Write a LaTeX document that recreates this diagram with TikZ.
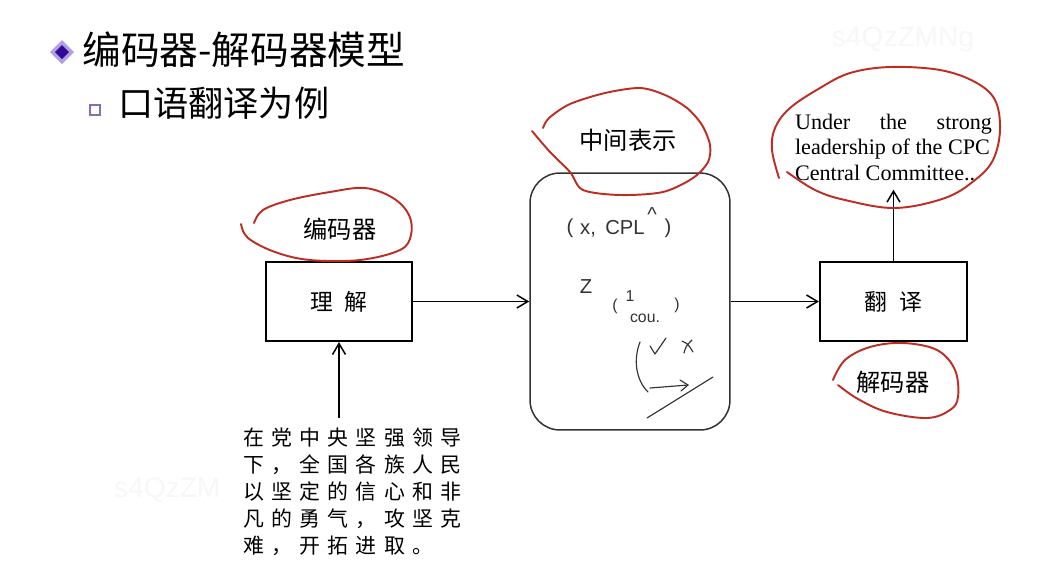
\documentclass[tikz,border=0pt]{standalone}
\usepackage{fontspec}
\setmainfont{Liberation Serif}
\setsansfont{Liberation Sans}
\newfontfamily\cjk{Noto Sans CJK SC}
\newfontfamily\cjkspaced[LetterSpace=35]{Noto Sans CJK SC}
\usetikzlibrary{positioning,arrows.meta}
\definecolor{ringred}{RGB}{190,45,35}
\definecolor{bulletdark}{RGB}{50,10,150}
\definecolor{bulletlight}{RGB}{175,160,230}
\definecolor{inkgray}{RGB}{50,50,50}
\tikzset{
  block/.style={draw, line width=1.2pt, minimum width=2.92cm, minimum height=1.58cm,
    font=\cjk\fontsize{13}{13}\selectfont},
  tag/.style={font=\cjk\fontsize{13.8}{14}\selectfont},
  ring/.style={draw=ringred, line width=1.1pt, line cap=round, line join=round},
  link/.style={-{Straight Barb[length=2.2mm,width=2.6mm]}, line width=0.85pt},
  hand/.style={text=inkgray, font=\sffamily\fontsize{11.5}{11.5}\selectfont, inner sep=0pt},
  scribble/.style={draw=inkgray, line width=0.65pt, line cap=round, line join=round}
}
\begin{document}
\begin{tikzpicture}[x=0.02cm,y=-0.02cm]
    \useasboundingbox (0,0) rectangle (1058,566);

    % Watermarks
    \node[text=black!3, font=\sffamily\fontsize{16}{16}\selectfont] (mark1) at (903,40) {s4QzZMNg};
    \node[text=black!3, font=\sffamily\fontsize{16}{16}\selectfont, anchor=west] (mark2) at (108,490) {s4QzZM};

    % Bullets and headings
    \fill[bulletlight] (62,40) -- (74,52) -- (62,64) -- (50,52) -- cycle;
    \fill[bulletdark] (62,45) -- (69,52) -- (62,59) -- (55,52) -- cycle;
    \draw[bulletdark!60, line width=0.9pt] (90,105) rectangle (100,115);
    \node[anchor=west, inner sep=0pt, font=\cjk\fontsize{22}{22}\selectfont] (title) at (82,50) {编码器-解码器模型};
    \node[anchor=west, inner sep=0pt, font=\cjk\fontsize{20}{20}\selectfont] (subtitle) at (118,103) {口语翻译为例};

    % Model blocks
    \node[block] (enc) at (339,301.5) {理\hspace{0.5em}解};
    \node[block, minimum width=2.94cm] (dec) at (893.5,301.5) {翻\hspace{0.5em}译};
    \node[draw=inkgray, line width=0.85pt, rounded corners=0.6cm, minimum width=4cm,
      minimum height=5.14cm] (mid) at (630,301.5) {};

    \node[tag] (enclabel) at (340,229) {编码器};
    \node[tag] (midlabel) at (628,140) {中间表示};
    \node[tag] (declabel) at (893,382) {解码器};

    % Input and output sentences
    \node[font=\cjkspaced\fontsize{11.9}{15.3}\selectfont, align=left, inner sep=0pt,
      outer sep=0.2cm, anchor=north west] (source) at (233,418)
      {在党中央坚强领导\\下，全国各族人民\\以坚定的信心和非\\凡的勇气，攻坚克\\难，开拓进取。};
    \node[font=\fontsize{12.6}{14.5}\selectfont, align=left, inner sep=0.18cm] (target) at (893.5,147)
      {\hbox to 3.94cm{Under\hfill the\hfill strong}\\leadership of the CPC\\Central Committee..};

    \draw[link] (enc) -- (mid);
    \draw[link] (mid) -- (dec);
    \draw[link] (dec) -- (target);
    \draw[link] (enc.south |- source.north) -- (enc.south);

    % Red hand-drawn rings
    \draw[ring] plot[smooth, tension=0.6] coordinates {(241,224) (248,238) (275,252) (310,260)
      (360,260) (400,250) (411,235) (409,215) (393,198) (365,188) (330,192) (290,200) (263,210) (254,223)};
    \draw[ring] plot[smooth, tension=0.5] coordinates {(532,131) (550,152) (570,172) (583,190)
      (620,195) (663,192) (693,178) (708,162) (710,145) (702,125) (687,108) (665,95) (640,88)
      (605,93) (570,104) (549,118) (543,128)};
    \draw[ring] plot[smooth, tension=0.6] coordinates {(779,178) (772,150) (775,128) (790,108)
      (820,88) (850,73) (890,67) (940,70) (975,82) (995,100) (1000,130) (993,160) (975,180)
      (945,198) (895,208) (845,200) (815,190) (787,172)};
    \draw[ring] plot[smooth, tension=0.6] coordinates {(833,380) (845,360) (870,347) (903,343)
      (937,350) (955,370) (958,397) (950,410) (927,418) (887,412) (858,399) (838,385)};

    % Hand-written notes in the middle block
    \node[hand] (n1) at (570,228) {(};
    \node[hand] (n2) at (588,230) {x,};
    \node[hand] (n3) at (625,228) {CPL};
    \node[hand] (n4) at (652,215) {\textasciicircum};
    \node[hand] (n5) at (668,228) {)};
    \node[hand] (n6) at (586,287) {Z};
    \node[hand, font=\sffamily\fontsize{9}{9}\selectfont] (n7) at (615,306) {(};
    \node[hand, font=\sffamily\fontsize{9}{9}\selectfont] (n8) at (630,296) {1};
    \node[hand, font=\sffamily\fontsize{9}{9}\selectfont] (n9) at (645,318) {cou.};
    \node[hand, font=\sffamily\fontsize{9}{9}\selectfont] (n10) at (677,305) {)};
    \draw[scribble] (650,346) -- (655,354) -- (666,338);
    \draw[scribble] (682,341) .. controls (688,344) .. (693,352);
    \draw[scribble] (692,340) .. controls (686,346) .. (684,353);
    \draw[scribble] (640,342) .. controls (633,360) and (636,380) .. (648,392);
    \draw[scribble] (650,388) -- (688,385);
    \draw[scribble] (680,380) -- (688,385) -- (681,391);
    \draw[scribble] (647,418) -- (713,377);
\end{tikzpicture}
\end{document}
